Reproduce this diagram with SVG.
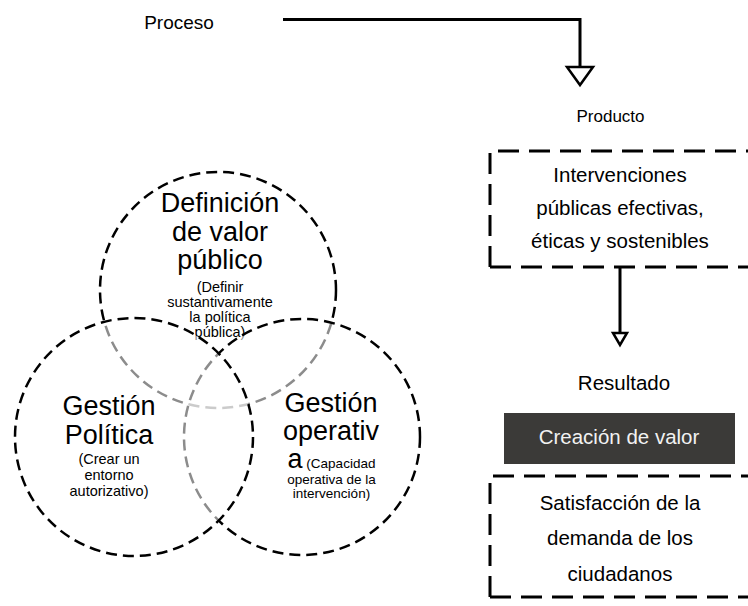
<svg xmlns="http://www.w3.org/2000/svg" width="748" height="606" viewBox="0 0 748 606">
<style>
text{font-family:"Liberation Sans",Arial,sans-serif;fill:#000;}
.c{text-anchor:middle;}
.big{font-size:27px;}
.sm{font-size:14.5px;}
.xs{font-size:13.5px;}
.lbl{font-size:20.5px;}
.circ{fill:#fff;fill-opacity:0.55;stroke:#000;stroke-width:2.5;stroke-dasharray:11 6;}
.dbox{fill:none;stroke:#000;stroke-width:3;stroke-dasharray:21 10;}
.conn{fill:none;stroke:#000;stroke-width:3;}
.tri{fill:#fff;stroke:#000;stroke-width:2.5;stroke-linejoin:miter;}
</style>
<rect width="748" height="606" fill="#fff"/>
<g id="connectors">
<path class="conn" d="M283,19.5 H580 V67"/>
<polygon class="tri" points="567,67 593,67 580,85"/>
<path class="conn" d="M620,267 V333"/>
<polygon class="tri" points="613,333 627,333 620,345"/>
</g>
<g id="proceso"><text class="c" x="179" y="29" style="font-size:19px">Proceso</text></g>
<g id="producto"><text class="c" x="610.5" y="122" style="font-size:17px">Producto</text></g>
<g id="intervenciones">
<path class="dbox" d="M490,267 V151 H790"/>
<path class="dbox" d="M490,267 H790"/>
<text class="c lbl" x="620" y="182">Intervenciones</text>
<text class="c lbl" x="620" y="215">públicas efectivas,</text>
<text class="c lbl" x="620" y="248">éticas y sostenibles</text>
</g>
<g id="resultado"><text class="c lbl" x="624" y="390">Resultado</text></g>
<g id="creacion">
<rect x="504" y="413" width="231" height="51" fill="#3b3a38"/>
<text class="c lbl" x="619" y="444" style="fill:#f2f2f2">Creación de valor</text>
</g>
<g id="satisfaccion">
<path class="dbox" d="M490,597 V476 H790"/>
<path class="dbox" d="M490,597 H790"/>
<text class="c lbl" x="620" y="510">Satisfacción de la</text>
<text class="c lbl" x="620" y="545">demanda de los</text>
<text class="c lbl" x="620" y="581">ciudadanos</text>
</g>
<g id="definicion">
<circle class="circ" cx="218" cy="290" r="118"/>
<text class="c big" x="220" y="212">Definición</text>
<text class="c big" x="220" y="240.5">de valor</text>
<text class="c big" x="220" y="269">público</text>
<text class="c sm" x="220" y="292">(Definir</text>
<text class="c sm" x="220" y="307">sustantivamente</text>
<text class="c sm" x="220" y="322">la política</text>
<text class="c sm" x="220" y="337">pública)</text>
</g>
<g id="gestion-operativa">
<circle class="circ" cx="302" cy="437" r="118"/>
<text class="c big" x="331" y="412">Gestión</text>
<text class="c big" x="331" y="440">operativ</text>
<text class="c" x="331.5" y="467.5"><tspan class="big">a</tspan><tspan class="xs"> (Capacidad</tspan></text>
<text class="c xs" x="331.5" y="484">operativa de la</text>
<text class="c xs" x="331.5" y="497.5">intervención)</text>
</g>
<g id="gestion-politica">
<circle class="circ" cx="134" cy="437" r="119"/>
<text class="c big" x="109" y="415">Gestión</text>
<text class="c big" x="109" y="444">Política</text>
<text class="c sm" x="109" y="463.5">(Crear un</text>
<text class="c sm" x="109" y="480">entorno</text>
<text class="c sm" x="109" y="495.5">autorizativo)</text>
</g>
</svg>
